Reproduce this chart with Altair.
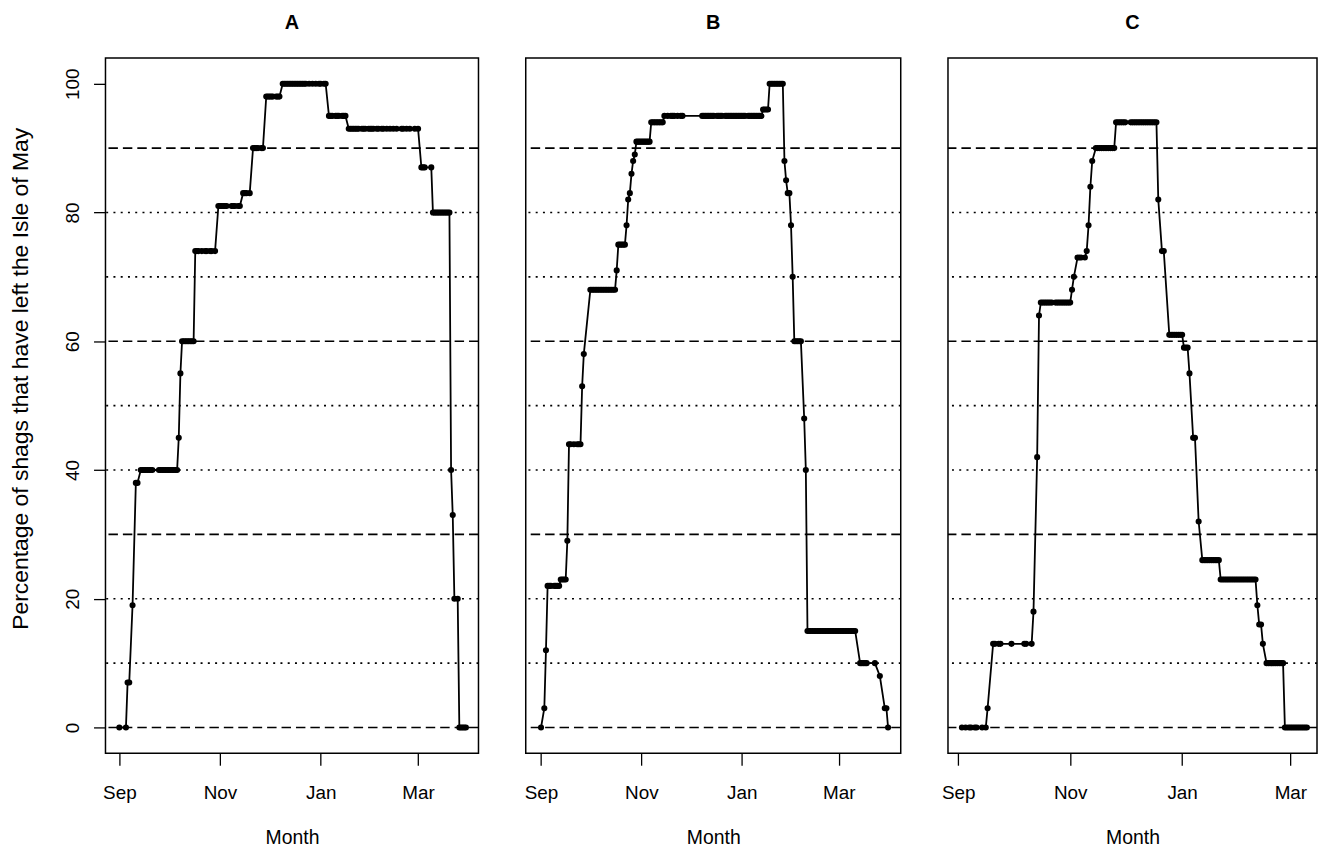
import altair as alt
import pandas as pd

panel_names = ["A", "B", "C"]
tick_days = [0, 61, 122, 181]
tick_labels = ["Sep", "Nov", "Jan", "Mar"]
y_ticks = [0, 20, 40, 60, 80, 100]
dashed_levels = [0, 30, 60, 90]
dotted_levels = [10, 20, 40, 50, 70, 80]

# Panel A: percentage levels and the observation days (days since 1 Sep) at each level
a_levels = [0, 7, 19, 38, 40, 45, 55, 60, 74, 81, 83, 90, 98, 100, 95, 93, 87, 80, 40, 33, 20, 0]
a_days = [
    [0, 4], [5, 6], [8], [10, 11],
    [13, 14, 15, 16, 17, 18, 19, 20, 24, 25, 26, 27, 28, 29, 30, 31, 32, 33, 34, 35],
    [36], [37], [38, 39, 40, 41, 42, 43, 44, 45],
    [46, 47, 48, 50, 52, 53, 55, 56, 58],
    [60, 61, 62, 63, 64, 65, 68, 69, 70, 72, 73],
    [75, 76, 77, 79], [81, 82, 83, 84, 86, 87],
    [89, 90, 91, 92, 93, 95, 96, 97],
    [99, 100, 101, 102, 103, 104, 105, 106, 107, 108, 109, 110, 111, 112, 113, 115, 117, 119, 121, 122, 124, 125],
    [127, 128, 129, 131, 132, 133, 135, 136, 137],
    [139, 140, 141, 142, 143, 144, 145, 147, 148, 149, 151, 152, 153, 154, 156, 157, 159, 160, 162, 164, 166,
     168, 171, 172, 174, 176, 179, 181],
    [183, 184, 185, 189],
    [190, 191, 192, 193, 194, 195, 196, 197, 198, 199, 200],
    [201], [202], [203, 205], [206, 207, 208, 209, 210],
]

# Panel B
b_levels = [0, 3, 12, 22, 23, 29, 44, 53, 58, 68, 71, 75, 78, 82, 83, 86, 88, 89, 91, 94, 95, 96, 100,
            88, 85, 83, 78, 70, 60, 48, 40, 15, 10, 8, 3, 0]
b_days = [
    [0], [2], [3], [4, 5, 6, 8, 9, 10, 11], [12, 13, 14, 15], [16],
    [17, 18, 20, 22, 23, 24], [25], [26],
    [30, 31, 32, 33, 34, 35, 36, 37, 38, 39, 40, 41, 42, 43, 44, 45],
    [46], [47, 48, 49, 50, 51], [52], [53], [54], [55], [56], [57],
    [58, 59, 60, 61, 62, 63, 64, 65, 66],
    [67, 68, 69, 70, 71, 72, 73, 74],
    [75, 77, 79, 80, 81, 83, 85, 86, 98, 99, 100, 101, 102, 103, 104, 105, 107, 108, 109, 110, 112, 113, 114,
     115, 116, 117, 118, 119, 120, 121, 122, 123, 124, 126, 127, 128, 129, 130, 131, 132, 133, 134],
    [135, 136, 137, 138],
    [139, 140, 141, 142, 143, 144, 145, 146, 147],
    [148], [149], [150, 151], [152], [153], [154, 155, 156, 157, 158], [160], [161],
    [162, 163, 164, 165, 166, 167, 168, 169, 170, 171, 172, 173, 174, 175, 176, 177, 178, 179, 180, 181, 182,
     183, 184, 185, 186, 187, 188, 189, 190, 191],
    [194, 195, 196, 197, 198, 203], [206], [209, 210], [211],
]

# Panel C
c_levels = [0, 3, 13, 18, 42, 64, 66, 68, 70, 73, 74, 78, 84, 88, 90, 94, 82, 74, 61, 59, 55, 45, 32, 26, 23,
            19, 16, 13, 10, 0]
c_days = [
    [2, 4, 6, 7, 9, 10, 13, 15], [16],
    [19, 20, 22, 23, 29, 36, 37, 40], [41], [43], [44],
    [45, 46, 47, 48, 49, 50, 51, 53, 54, 55, 56, 57, 58, 59, 60, 61],
    [62], [63], [65, 66, 67, 69], [70], [71], [72], [73],
    [75, 76, 77, 78, 79, 80, 81, 82, 83, 84, 85],
    [86, 87, 88, 89, 90, 91, 94, 95, 96, 97, 98, 99, 100, 101, 102, 103, 104, 105, 106, 107, 108],
    [109], [111, 112],
    [115, 116, 117, 118, 119, 120, 121, 122], [123, 124, 125], [126], [128, 129], [131],
    [133, 134, 135, 136, 137, 138, 139, 140, 141, 142],
    [143, 144, 145, 146, 147, 148, 149, 150, 151, 152, 153, 154, 155, 156, 157, 158, 159, 160, 161, 162],
    [163], [164, 165], [166],
    [168, 169, 170, 171, 172, 173, 174, 175, 176, 177],
    [178, 179, 180, 181, 182, 183, 184, 185, 186, 187, 188, 189, 190],
]

x_domains = [[-8.4, 217.6], [-9.3, 218.7], [-5.6, 195.5]]
panel_widths = [375, 377, 371]
panel_height = 699

FONT = "Liberation Sans"

label_expr = "".join(
    f"datum.value == {d} ? '{l}' : " for d, l in zip(tick_days, tick_labels)
) + "''"


def flatten(levels, days):
    rows = []
    for lv, ds in zip(levels, days):
        for d in ds:
            rows.append({"day": d, "value": lv})
    return pd.DataFrame(rows).sort_values("day")


def panel(name, levels, days, domain, width, show_y):
    df = flatten(levels, days)
    x = alt.X(
        "day:Q",
        scale=alt.Scale(domain=domain, nice=False, zero=False),
        axis=alt.Axis(
            values=tick_days, labelExpr=label_expr, title="Month",
            domain=False, grid=False, tickSize=12, tickWidth=1.3, tickColor="black",
            labelPadding=18, labelFontSize=19, labelFont=FONT, labelColor="black",
            titleFontSize=19.5, titleFont=FONT, titleFontWeight="normal", titleColor="black",
            titlePadding=27, labelFlush=False, labelOverlap=False,
        ),
    )
    if show_y:
        yaxis = alt.Axis(
            values=y_ticks, title="Percentage of shags that have left the Isle of May",
            domain=False, grid=False, tickSize=12, tickWidth=1.3, tickColor="black",
            labelAngle=-90, labelAlign="center", labelBaseline="bottom",
            labelPadding=11, labelFontSize=19, labelFont=FONT, labelColor="black",
            titleFontSize=23, titleFont=FONT, titleFontWeight="normal", titleColor="black",
            titlePadding=31, minExtent=42, maxExtent=42, labelFlush=False, titleY=322,
        )
    else:
        yaxis = None
    y = alt.Y("value:Q", scale=alt.Scale(domain=[-4, 104], nice=False, zero=False), axis=yaxis)

    dashed = alt.Chart(pd.DataFrame({"value": dashed_levels})).mark_rule(
        color="black", strokeWidth=1.7, strokeDash=[9.5, 5]
    ).encode(y=y)
    dotted = alt.Chart(pd.DataFrame({"value": dotted_levels})).mark_rule(
        color="black", strokeWidth=1.7, strokeDash=[2, 5.3]
    ).encode(y=y)
    base = alt.Chart(df)
    line = base.mark_line(color="black", strokeWidth=1.8).encode(x=x, y=y)
    pts = base.mark_circle(color="black", size=38, opacity=1).encode(x=x, y=y)
    return alt.layer(dashed, dotted, line, pts).properties(
        width=width, height=panel_height,
        title=alt.TitleParams(name, fontSize=20, fontWeight="bold", font=FONT, color="black",
                              anchor="middle", offset=9, baseline="alphabetic"),
    )


charts = []
for i, (nm, lv, ds) in enumerate(zip(panel_names, [a_levels, b_levels, c_levels], [a_days, b_days, c_days])):
    charts.append(panel(nm, lv, ds, x_domains[i], panel_widths[i], i == 0))

chart = alt.hconcat(*charts, spacing=47.5, bounds="flush").properties(
    padding={"left": 1, "top": 2, "right": 0, "bottom": 0}
).configure(background="white").configure_view(stroke="black", strokeWidth=1.5)

chart.save("out.html", embed_options={"renderer": "svg", "actions": False})
